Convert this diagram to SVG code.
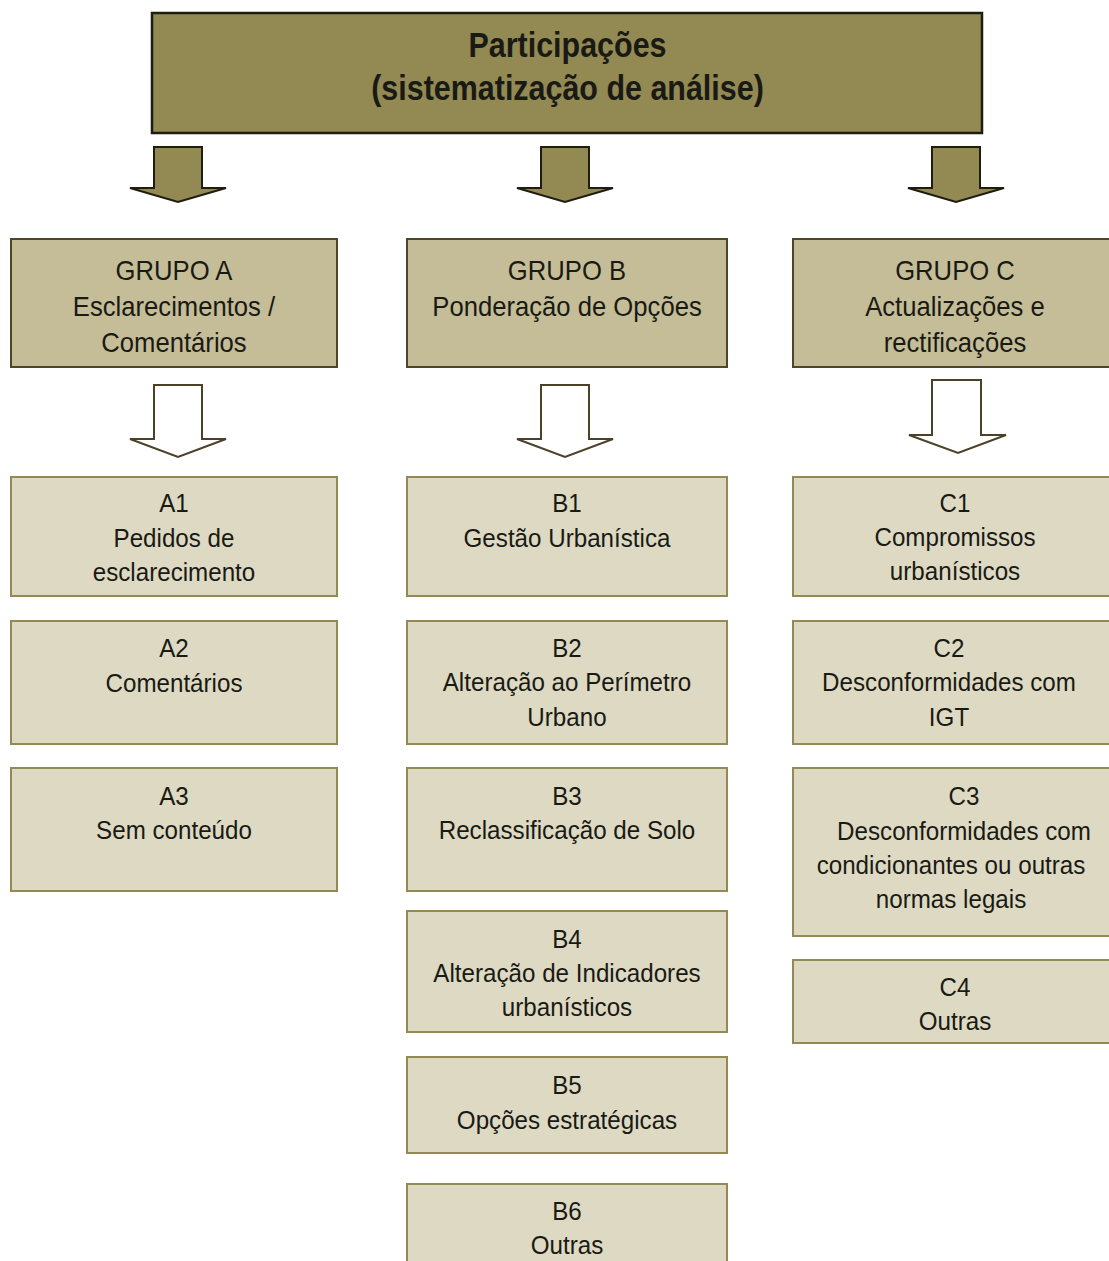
<svg xmlns="http://www.w3.org/2000/svg" width="1109" height="1261" viewBox="0 0 1109 1261">
<style>
  text { font-family: "Liberation Sans", Arial, sans-serif; fill: #1a1a14; text-anchor: middle; }
  .title { font-size: 35px; font-weight: bold; }
  .grp { font-size: 27px; }
  .det { font-size: 26px; }
  .topbox { fill: #938953; stroke: #1f1c10; stroke-width: 2.5; }
  .grpbox { fill: #c4bd97; stroke: #4d4628; stroke-width: 2; }
  .detbox { fill: #ddd9c3; stroke: #938953; stroke-width: 2; }
  .farrow { fill: #938953; stroke: #1f1c10; stroke-width: 2; stroke-linejoin: miter; }
  .oarrow { fill: #ffffff; stroke: #4a4128; stroke-width: 2; stroke-linejoin: miter; }
</style>
<rect width="1109" height="1261" fill="#ffffff"/>

<g id="top">
  <rect class="topbox" x="152" y="13" width="830" height="120"/>
  <g transform="translate(567.5,0) scale(0.87,1)">
    <text class="title" x="0" y="57">Participações</text>
    <text class="title" x="0" y="100">(sistematização de análise)</text>
  </g>
</g>

<g id="connectors">
  <path class="farrow" d="M154,147 H202 V188 H226 L178,202 L130,188 H154 Z"/>
  <path class="farrow" d="M541,147 H589 V188 H613 L565,202 L517,188 H541 Z"/>
  <path class="farrow" d="M932,147 H980 V188 H1004 L956,202 L908,188 H932 Z"/>
  <path class="oarrow" d="M154,385 H202 V439 H226 L178,457 L130,439 H154 Z"/>
  <path class="oarrow" d="M541,385 H589 V439 H613 L565,457 L517,439 H541 Z"/>
  <path class="oarrow" d="M932,380 H981 V435 H1006 L958,453 L909,435 H932 Z"/>
</g>

<g id="grupoA">
  <rect class="grpbox" x="11" y="239" width="326" height="128"/>
  <g transform="translate(174,0) scale(0.95,1)">
    <text class="grp" x="0" y="280">GRUPO A</text>
    <text class="grp" x="0" y="316">Esclarecimentos /</text>
    <text class="grp" x="0" y="352">Comentários</text>
  </g>
</g>
<g id="grupoB">
  <rect class="grpbox" x="407" y="239" width="320" height="128"/>
  <g transform="translate(567,0) scale(0.95,1)">
    <text class="grp" x="0" y="280">GRUPO B</text>
    <text class="grp" x="0" y="316">Ponderação de Opções</text>
  </g>
</g>
<g id="grupoC">
  <rect class="grpbox" x="793" y="239" width="330" height="128"/>
  <g transform="translate(955,0) scale(0.95,1)">
    <text class="grp" x="0" y="280">GRUPO C</text>
    <text class="grp" x="0" y="316">Actualizações e</text>
    <text class="grp" x="0" y="352">rectificações</text>
  </g>
</g>

<g id="A1">
  <rect class="detbox" x="11" y="477" width="326" height="119"/>
  <g transform="translate(174,0) scale(0.93,1)">
    <text class="det" x="0" y="512">A1</text>
    <text class="det" x="0" y="547">Pedidos de</text>
    <text class="det" x="0" y="581">esclarecimento</text>
  </g>
</g>
<g id="A2">
  <rect class="detbox" x="11" y="621" width="326" height="123"/>
  <g transform="translate(174,0) scale(0.93,1)">
    <text class="det" x="0" y="657">A2</text>
    <text class="det" x="0" y="692">Comentários</text>
  </g>
</g>
<g id="A3">
  <rect class="detbox" x="11" y="768" width="326" height="123"/>
  <g transform="translate(174,0) scale(0.93,1)">
    <text class="det" x="0" y="805">A3</text>
    <text class="det" x="0" y="839">Sem conteúdo</text>
  </g>
</g>

<g id="B1">
  <rect class="detbox" x="407" y="477" width="320" height="119"/>
  <g transform="translate(567,0) scale(0.93,1)">
    <text class="det" x="0" y="512">B1</text>
    <text class="det" x="0" y="547">Gestão Urbanística</text>
  </g>
</g>
<g id="B2">
  <rect class="detbox" x="407" y="621" width="320" height="123"/>
  <g transform="translate(567,0) scale(0.93,1)">
    <text class="det" x="0" y="657">B2</text>
    <text class="det" x="0" y="691">Alteração ao Perímetro</text>
    <text class="det" x="0" y="726">Urbano</text>
  </g>
</g>
<g id="B3">
  <rect class="detbox" x="407" y="768" width="320" height="123"/>
  <g transform="translate(567,0) scale(0.93,1)">
    <text class="det" x="0" y="805">B3</text>
    <text class="det" x="0" y="839">Reclassificação de Solo</text>
  </g>
</g>
<g id="B4">
  <rect class="detbox" x="407" y="911" width="320" height="121"/>
  <g transform="translate(567,0) scale(0.93,1)">
    <text class="det" x="0" y="948">B4</text>
    <text class="det" x="0" y="982">Alteração de Indicadores</text>
    <text class="det" x="0" y="1016">urbanísticos</text>
  </g>
</g>
<g id="B5">
  <rect class="detbox" x="407" y="1057" width="320" height="96"/>
  <g transform="translate(567,0) scale(0.93,1)">
    <text class="det" x="0" y="1094">B5</text>
    <text class="det" x="0" y="1129">Opções estratégicas</text>
  </g>
</g>
<g id="B6">
  <rect class="detbox" x="407" y="1184" width="320" height="90"/>
  <g transform="translate(567,0) scale(0.93,1)">
    <text class="det" x="0" y="1220">B6</text>
    <text class="det" x="0" y="1254">Outras</text>
  </g>
</g>

<g id="C1">
  <rect class="detbox" x="793" y="477" width="330" height="119"/>
  <g transform="translate(955,0) scale(0.93,1)">
    <text class="det" x="0" y="512">C1</text>
    <text class="det" x="0" y="546">Compromissos</text>
    <text class="det" x="0" y="580">urbanísticos</text>
  </g>
</g>
<g id="C2">
  <rect class="detbox" x="793" y="621" width="330" height="123"/>
  <g transform="translate(949,0) scale(0.93,1)">
    <text class="det" x="0" y="657">C2</text>
    <text class="det" x="0" y="691">Desconformidades com</text>
    <text class="det" x="0" y="726">IGT</text>
  </g>
</g>
<g id="C3">
  <rect class="detbox" x="793" y="768" width="330" height="168"/>
  <g transform="translate(964,0) scale(0.93,1)">
    <text class="det" x="0" y="805">C3</text>
    <text class="det" x="0" y="840">Desconformidades com</text>
  </g>
  <g transform="translate(951,0) scale(0.93,1)">
    <text class="det" x="0" y="874">condicionantes ou outras</text>
    <text class="det" x="0" y="908">normas legais</text>
  </g>
</g>
<g id="C4">
  <rect class="detbox" x="793" y="960" width="330" height="83"/>
  <g transform="translate(955,0) scale(0.93,1)">
    <text class="det" x="0" y="996">C4</text>
    <text class="det" x="0" y="1030">Outras</text>
  </g>
</g>
</svg>
